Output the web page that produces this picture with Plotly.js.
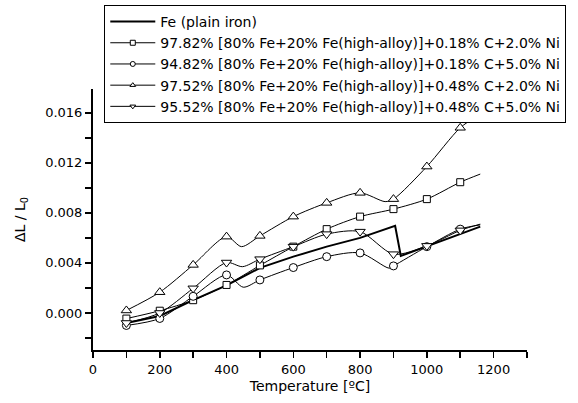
<!DOCTYPE html>
<html>
<head>
<meta charset="utf-8">
<script src="https://cdn.plot.ly/plotly-3.0.1.min.js"></script>
<style>html,body{margin:0;padding:0;background:#fff;}#chart{width:578px;height:403px;}</style>
</head>
<body>
<div id="chart"></div>
<script>
// Series names
const names = [
  "Fe (plain iron)",
  "97.82% [80% Fe+20% Fe(high-alloy)]+0.18% C+2.0% Ni",
  "94.82% [80% Fe+20% Fe(high-alloy)]+0.18% C+5.0% Ni",
  "97.52% [80% Fe+20% Fe(high-alloy)]+0.48% C+2.0% Ni",
  "95.52% [80% Fe+20% Fe(high-alloy)]+0.48% C+5.0% Ni"
];

// Marker temperatures (°C)
const markT = [100, 200, 300, 400, 500, 600, 700, 800, 900, 1000, 1100];

// Fe (plain iron) — line only
const feT = [100, 200, 300, 400, 500, 600, 700, 800, 905, 922, 1160];
const feV = [-0.0008, -0.00024, 0.00102, 0.0022, 0.0036, 0.0045, 0.0053, 0.0060, 0.00696, 0.00456, 0.0069];

// 97.82% ... 0.18% C + 2.0% Ni (squares)
const sqMarkV = [-0.00045, 0.00018, 0.00102, 0.00224, 0.0038, 0.0053, 0.0067, 0.0077, 0.0083, 0.0091, 0.01045];
const sqLineT = [100, 200, 300, 400, 500, 600, 700, 800, 900, 1000, 1100, 1160];
const sqLineV = [-0.00045, 0.00018, 0.00102, 0.00224, 0.0038, 0.0053, 0.0067, 0.0077, 0.0083, 0.0091, 0.01045, 0.0111];

// 94.82% ... 0.18% C + 5.0% Ni (circles)
const ciMarkV = [-0.001, -0.00044, 0.00133, 0.00304, 0.00264, 0.00363, 0.0045, 0.0048, 0.00376, 0.0053, 0.0067];
const ciLineT = [100, 200, 300, 400, 450, 500, 600, 700, 800, 887, 900, 1000, 1100, 1160];
const ciLineV = [-0.001, -0.00044, 0.00133, 0.00304, 0.00206, 0.00264, 0.00363, 0.0045, 0.0048, 0.00358, 0.00376, 0.0053, 0.0067, 0.00704];

// 97.52% ... 0.48% C + 2.0% Ni (up triangles)
const tuMarkV = [0.0002, 0.00166, 0.00384, 0.0061, 0.00616, 0.0077, 0.0088, 0.0096, 0.0091, 0.0117, 0.0148];
const tuLineT = [100, 200, 300, 400, 445, 500, 600, 700, 800, 875, 900, 1000, 1100, 1160];
const tuLineV = [0.0002, 0.00166, 0.00384, 0.0061, 0.0053, 0.00616, 0.0077, 0.0088, 0.0096, 0.0089, 0.0091, 0.0117, 0.0148, 0.0159];

// 95.52% ... 0.48% C + 5.0% Ni (down triangles)
const tdMarkV = [-0.0008, 0.0, 0.00197, 0.00403, 0.0043, 0.0053, 0.0063, 0.0065, 0.0047, 0.00536, 0.0066];
const tdLineT = [100, 200, 300, 400, 448, 500, 600, 700, 800, 900, 1000, 1100, 1160];
const tdLineV = [-0.0008, 0.0, 0.00197, 0.00403, 0.0037, 0.0043, 0.0053, 0.0063, 0.0065, 0.0047, 0.00536, 0.0066, 0.0071];

const FONT = "DejaVu Sans, Arial, sans-serif";
const thin = {color: "#000", width: 1, shape: "spline", smoothing: 0.8};

const series = [
  {lt: sqLineT, lv: sqLineV, mv: sqMarkV, sym: "square", size: 7, name: names[1]},
  {lt: ciLineT, lv: ciLineV, mv: ciMarkV, sym: "circle", size: 8, name: names[2]},
  {lt: tuLineT, lv: tuLineV, mv: tuMarkV, sym: "triangle-up", size: 9, name: names[3]},
  {lt: tdLineT, lv: tdLineV, mv: tdMarkV, sym: "triangle-down", size: 9, name: names[4]}
];

const traces = [];
// lines
traces.push({x: feT, y: feV, mode: "lines", line: {color: "#000", width: 2}, showlegend: false, hoverinfo: "skip"});
series.forEach(s => traces.push({x: s.lt, y: s.lv, mode: "lines", line: thin, showlegend: false, hoverinfo: "skip"}));
// markers
series.forEach(s => traces.push({x: markT, y: s.mv, mode: "markers", showlegend: false,
  marker: {symbol: s.sym, size: s.size, color: "#fff", line: {color: "#000", width: 1}}}));
// legend entries
traces.push({x: [null], y: [null], mode: "lines", name: names[0], line: {color: "#000", width: 2}});
series.forEach(s => traces.push({x: [null], y: [null], mode: "lines+markers", name: s.name,
  line: {color: "#000", width: 1}, marker: {symbol: s.sym, size: 5, color: "#fff", line: {color: "#000", width: 1}}}));

const layout = {
  width: 578, height: 403,
  margin: {l: 93, r: 51, t: 89, b: 53, autoexpand: false},
  paper_bgcolor: "#fff", plot_bgcolor: "#fff",
  font: {family: FONT, size: 13, color: "#000"},
  showlegend: true,
  legend: {x: 0.026, y: 1.322, xanchor: "left", yanchor: "top", bgcolor: "#fff",
    bordercolor: "#000", borderwidth: 1, font: {family: FONT, size: 14, color: "#000"},
    itemwidth: 45, tracegroupgap: 0},
  xaxis: {range: [0, 1300], dtick: 200, tick0: 0, showgrid: false, zeroline: false,
    showline: true, linecolor: "#000", linewidth: 2, ticks: "outside", ticklen: 6, tickwidth: 1.5, tickcolor: "#000",
    minor: {dtick: 100, ticks: "outside", ticklen: 6, tickwidth: 1.5, tickcolor: "#000", showgrid: false},
    tickfont: {family: FONT, size: 13},
    title: {text: "Temperature [ºC]", font: {family: FONT, size: 14}, standoff: 6}, automargin: false},
  yaxis: {range: [-0.00296, 0.0179], dtick: 0.004, tick0: 0, tickformat: ".3f", showgrid: false, zeroline: false,
    showline: true, linecolor: "#000", linewidth: 2, ticks: "outside", ticklen: 6, tickwidth: 1.5, tickcolor: "#000",
    minor: {dtick: 0.002, ticks: "outside", ticklen: 6, tickwidth: 1.5, tickcolor: "#000", showgrid: false},
    tickfont: {family: FONT, size: 13},
    title: {text: "ΔL / L<sub>0</sub>", font: {family: FONT, size: 14}, standoff: 16}, automargin: false}
};

Plotly.newPlot("chart", traces, layout, {displayModeBar: false, staticPlot: true});
</script>
</body>
</html>
